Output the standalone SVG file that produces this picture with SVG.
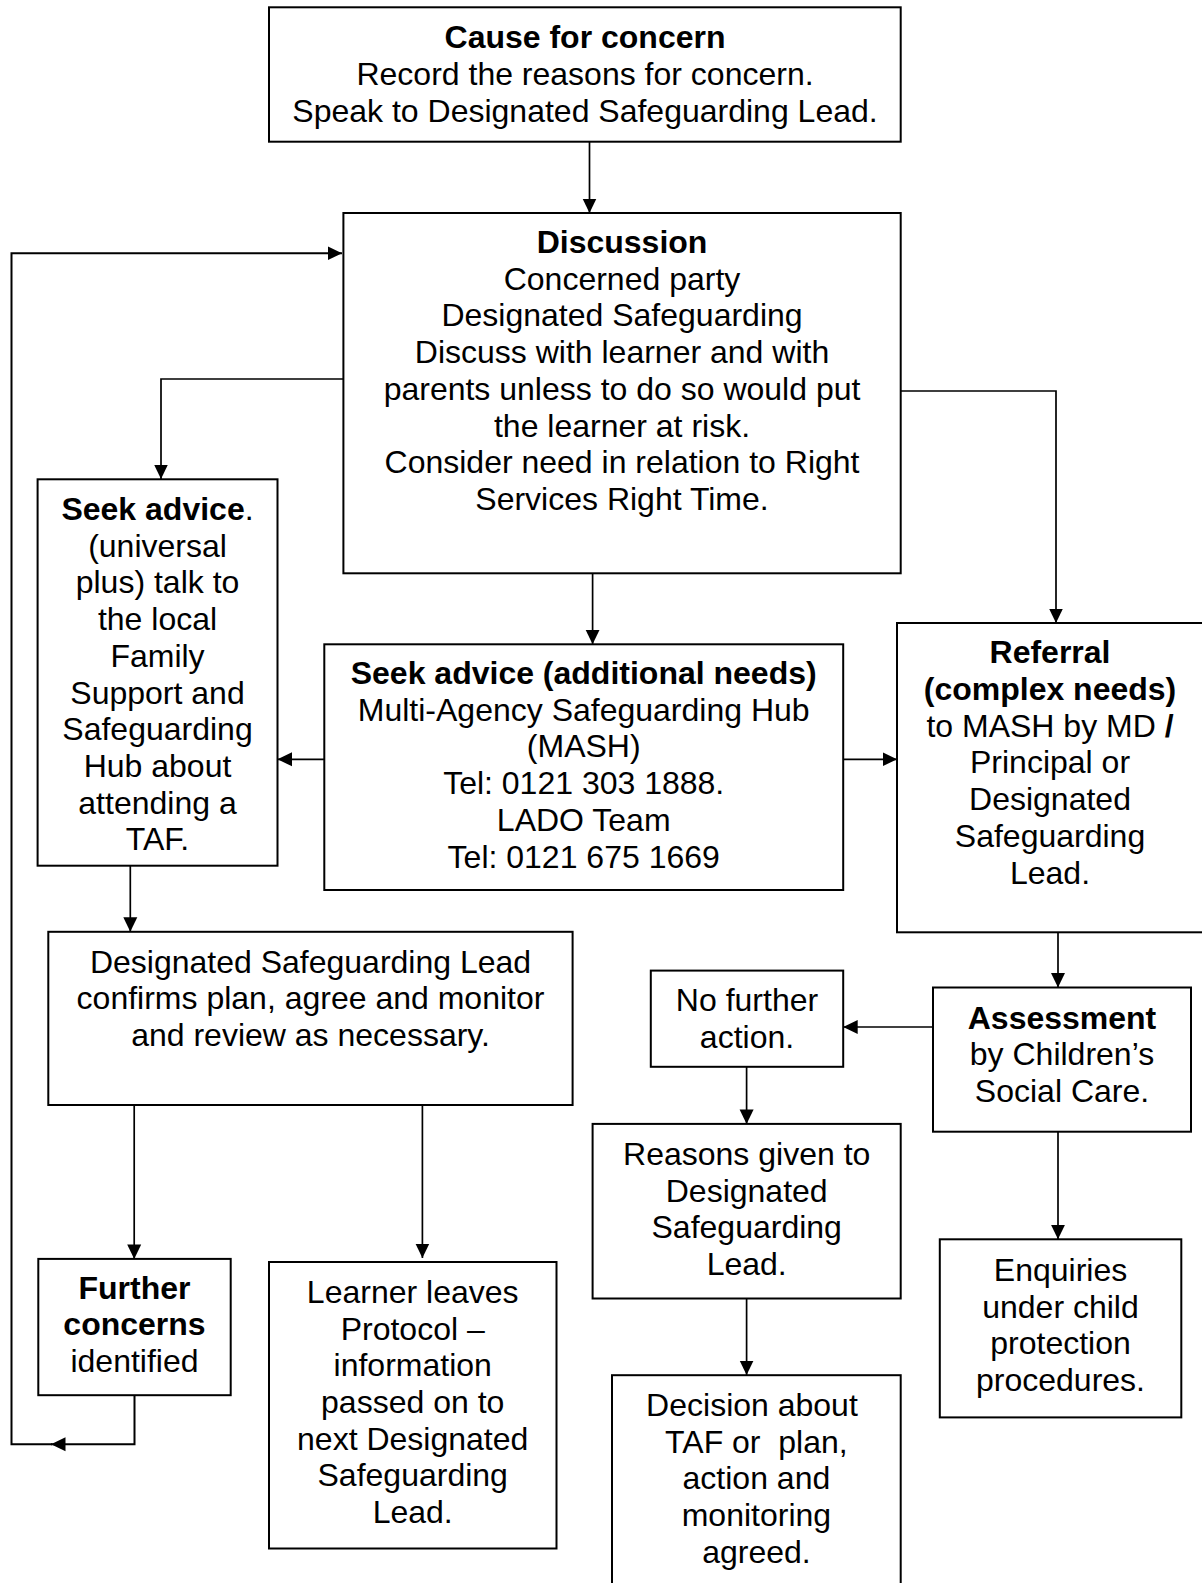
<svg xmlns="http://www.w3.org/2000/svg" width="1202" height="1583" viewBox="0 0 1202 1583">
<style>
rect.box{fill:#fff;stroke:#000;stroke-width:2}
text{font-family:"Liberation Sans",Arial,sans-serif;font-size:32px;fill:#000;text-anchor:middle;white-space:pre}
.b{font-weight:bold}
.c{fill:none;stroke:#000;stroke-width:1.7}
</style>
<defs>
<marker id="ah" markerUnits="userSpaceOnUse" markerWidth="16" markerHeight="16" refX="14.5" refY="7.5" orient="auto">
<path d="M0,0.5 L14.5,7.5 L0,14.5 z" fill="#000"/>
</marker>
</defs>
<rect width="1202" height="1583" fill="#fff"/>
<g id="connectors">
<path class="c" d="M589.5 141.7 V213" marker-end="url(#ah)"/>
<path class="c" d="M134.5 1395 V1444.3 H51" marker-end="url(#ah)" style="stroke-width:2"/>
<path class="c" d="M52 1444.3 H11.5 V253.3 H342" marker-end="url(#ah)" style="stroke-width:2"/>
<path class="c" d="M343.4 379 H161 V479" marker-end="url(#ah)"/>
<path class="c" d="M897 391 H1056 V623" marker-end="url(#ah)"/>
<path class="c" d="M592.6 573.3 V644.3" marker-end="url(#ah)"/>
<path class="c" d="M324.3 759.3 H277.5" marker-end="url(#ah)"/>
<path class="c" d="M843.2 759.3 H897" marker-end="url(#ah)"/>
<path class="c" d="M130.3 865.7 V931.8" marker-end="url(#ah)"/>
<path class="c" d="M1058 932.3 V987.5" marker-end="url(#ah)"/>
<path class="c" d="M933 1027 H843.2" marker-end="url(#ah)"/>
<path class="c" d="M746.6 1066.8 V1123.9" marker-end="url(#ah)"/>
<path class="c" d="M746.6 1298.5 V1375" marker-end="url(#ah)"/>
<path class="c" d="M1058 1131.7 V1239.3" marker-end="url(#ah)"/>
<path class="c" d="M134.2 1105 V1258.9" marker-end="url(#ah)"/>
<path class="c" d="M422.4 1105 V1258" marker-end="url(#ah)"/>
</g>
<g id="cause">
<rect class="box" x="269" y="7.3" width="631.7" height="134.4"/>
<text x="585" y="48.3" class="b">Cause for concern</text>
<text x="585" y="85">Record the reasons for concern.</text>
<text x="585" y="121.7">Speak to Designated Safeguarding Lead.</text>
</g>
<g id="discussion">
<rect class="box" x="343.4" y="213" width="557.3" height="360.3"/>
<text x="622" y="253" class="b">Discussion</text>
<text x="622" y="289.7">Concerned party</text>
<text x="622" y="326.4">Designated Safeguarding</text>
<text x="622" y="363">Discuss with learner and with</text>
<text x="622" y="399.8">parents unless to do so would put</text>
<text x="622" y="436.5">the learner at risk.</text>
<text x="622" y="473.2">Consider need in relation to Right</text>
<text x="622" y="510">Services Right Time.</text>
</g>
<g id="seek-universal">
<rect class="box" x="37.6" y="479.3" width="239.9" height="386.4"/>
<text x="157.5" y="520"><tspan class="b">Seek advice</tspan>.</text>
<text x="157.5" y="556.7">(universal</text>
<text x="157.5" y="593.4">plus) talk to</text>
<text x="157.5" y="630">the local</text>
<text x="157.5" y="666.8">Family</text>
<text x="157.5" y="703.5">Support and</text>
<text x="157.5" y="740.2">Safeguarding</text>
<text x="157.5" y="776.9">Hub about</text>
<text x="157.5" y="813.6">attending a</text>
<text x="157.5" y="850.3">TAF.</text>
</g>
<g id="mash">
<rect class="box" x="324.3" y="644.3" width="518.9" height="245.7"/>
<text x="583.7" y="684" class="b">Seek advice (additional needs)</text>
<text x="583.7" y="720.7">Multi-Agency Safeguarding Hub</text>
<text x="583.7" y="757.4">(MASH)</text>
<text x="583.7" y="794.1">Tel: 0121 303 1888.</text>
<text x="583.7" y="830.8">LADO Team</text>
<text x="583.7" y="867.5">Tel: 0121 675 1669</text>
</g>
<g id="referral">
<rect class="box" x="897" y="623" width="310" height="309.3"/>
<text x="1050" y="663.3" class="b">Referral</text>
<text x="1050" y="700" class="b">(complex needs)</text>
<text x="1050" y="736.7">to MASH by MD <tspan class="b">/</tspan></text>
<text x="1050" y="773.4">Principal or</text>
<text x="1050" y="810.1">Designated</text>
<text x="1050" y="846.8">Safeguarding</text>
<text x="1050" y="883.5">Lead.</text>
</g>
<g id="dsl-confirms">
<rect class="box" x="48.3" y="931.8" width="524.3" height="173.2"/>
<text x="310.5" y="972.5">Designated Safeguarding Lead</text>
<text x="310.5" y="1009.2">confirms plan, agree and monitor</text>
<text x="310.5" y="1045.9">and review as necessary.</text>
</g>
<g id="no-further">
<rect class="box" x="650.8" y="970.6" width="192.4" height="96.2"/>
<text x="747" y="1011">No further</text>
<text x="747" y="1047.7">action.</text>
</g>
<g id="assessment">
<rect class="box" x="933" y="987.5" width="258" height="144.2"/>
<text x="1062" y="1028.5" class="b">Assessment</text>
<text x="1062" y="1065.2">by Children’s</text>
<text x="1062" y="1101.9">Social Care.</text>
</g>
<g id="reasons">
<rect class="box" x="592.6" y="1123.9" width="308.1" height="174.6"/>
<text x="746.7" y="1164.8">Reasons given to</text>
<text x="746.7" y="1201.5">Designated</text>
<text x="746.7" y="1238.2">Safeguarding</text>
<text x="746.7" y="1274.9">Lead.</text>
</g>
<g id="decision">
<rect class="box" x="612" y="1375.2" width="288.7" height="220"/>
<text x="756.4" y="1416">Decision about </text>
<text x="756.4" y="1452.7">TAF or  plan,</text>
<text x="756.4" y="1489.4">action and</text>
<text x="756.4" y="1526.1">monitoring</text>
<text x="756.4" y="1562.8">agreed.</text>
</g>
<g id="enquiries">
<rect class="box" x="939.8" y="1239.3" width="241.5" height="178.1"/>
<text x="1060.5" y="1281">Enquiries</text>
<text x="1060.5" y="1317.7">under child</text>
<text x="1060.5" y="1354.4">protection</text>
<text x="1060.5" y="1391.1">procedures.</text>
</g>
<g id="further">
<rect class="box" x="38.3" y="1258.9" width="192.4" height="136.3"/>
<text x="134.5" y="1298.5" class="b">Further</text>
<text x="134.5" y="1335.2" class="b">concerns</text>
<text x="134.5" y="1371.9">identified</text>
</g>
<g id="learner-leaves">
<rect class="box" x="269" y="1262" width="287.5" height="286.5"/>
<text x="412.7" y="1302.9">Learner leaves</text>
<text x="412.7" y="1339.6">Protocol –</text>
<text x="412.7" y="1376.3">information</text>
<text x="412.7" y="1413">passed on to</text>
<text x="412.7" y="1449.7">next Designated</text>
<text x="412.7" y="1486.4">Safeguarding</text>
<text x="412.7" y="1523.1">Lead.</text>
</g>
</svg>
